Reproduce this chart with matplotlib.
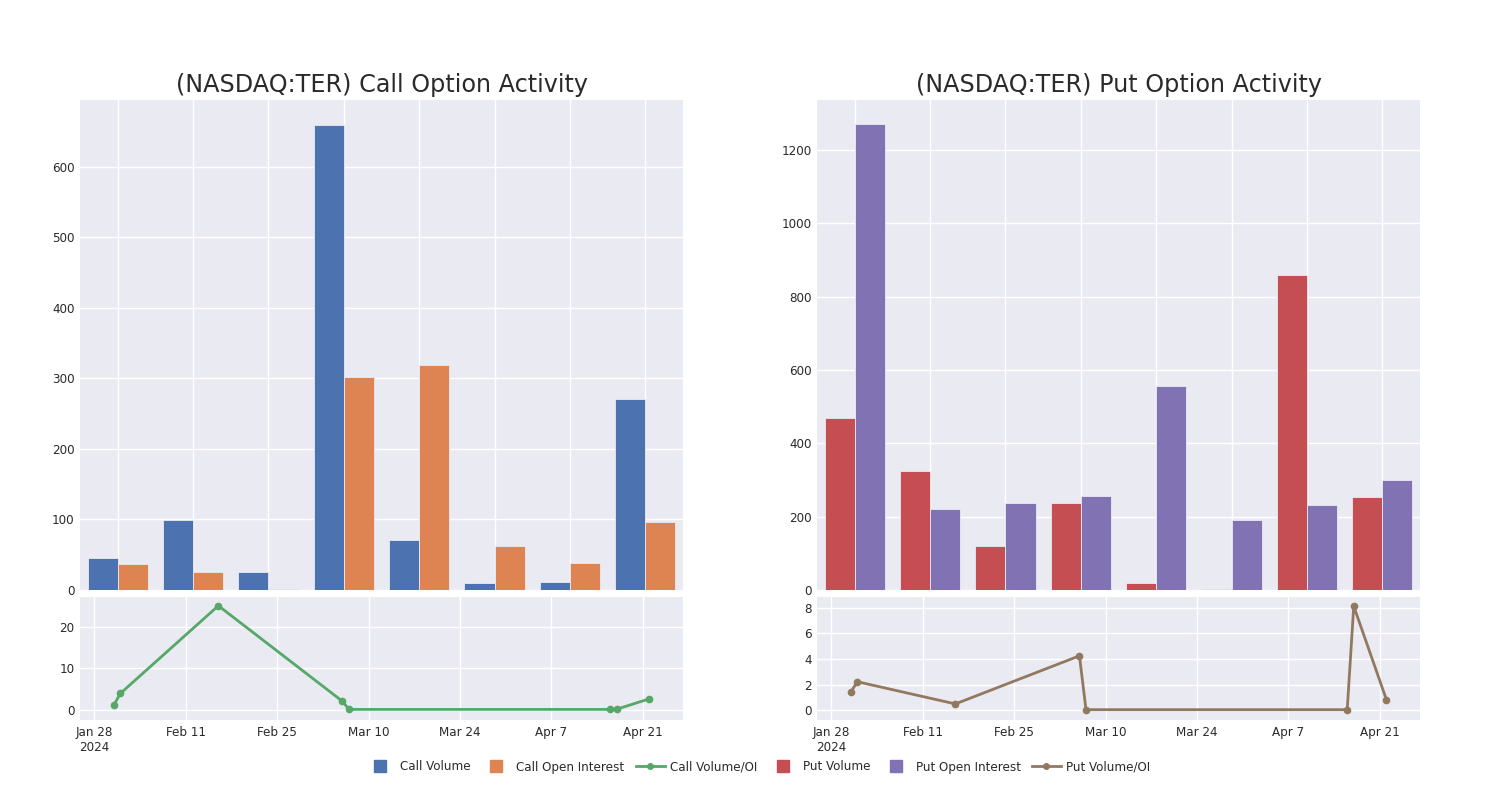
import matplotlib

matplotlib.use("Agg")
import matplotlib.pyplot as plt
import pandas as pd
from matplotlib.lines import Line2D

# categories (one bar group per expiry bucket)
categories = list(range(8))
call_volume = [46, 99, 25, 660, 71, 10, 12, 271]
call_open_interest = [37, 25, 1, 302, 319, 63, 39, 96]
put_volume = [470, 324, 120, 236, 20, 3, 858, 254]
put_open_interest = [1271, 221, 236, 256, 555, 192, 232, 300]

ratio_dates = pd.to_datetime([
    "2024-01-31", "2024-02-01", "2024-02-16", "2024-03-06",
    "2024-03-07", "2024-04-16", "2024-04-17", "2024-04-22",
])
call_ratio = [1.2, 4.0, 25.1, 2.1, 0.15, 0.15, 0.2, 2.7]
put_ratio = [1.42, 2.22, 0.48, 4.25, 0.03, 0.03, 8.14, 0.82]

tick_dates = pd.date_range("2024-01-28", periods=7, freq="14D")
tick_labels = [f"{d:%b} {d.day}" for d in tick_dates]
tick_labels[0] += "\n2024"

BG = "#EAEAF2"
TEXT = "#2a2a2a"
BLUE, ORANGE, GREEN = "#4C72B0", "#DD8452", "#55A868"
RED, PURPLE, BROWN = "#C44E52", "#8172B3", "#937860"

W, H = 1500, 800
TICK_FONT = dict(family="DejaVu Sans", stretch="condensed", size=9.5)


def px_axes(fig, left, top, right, bottom):
    ax = fig.add_axes([left / W, 1 - bottom / H, (right - left) / W, (bottom - top) / H])
    ax.set_facecolor(BG)
    for spine in ax.spines.values():
        spine.set_visible(False)
    ax.grid(True, color="white", linewidth=1.0)
    ax.set_axisbelow(True)
    ax.tick_params(length=0, pad=4)
    return ax


def style_ticks(ax):
    for label in ax.get_yticklabels() + ax.get_xticklabels():
        label.set_fontfamily(TICK_FONT["family"])
        label.set_fontstretch(TICK_FONT["stretch"])
        label.set_fontsize(TICK_FONT["size"])
        label.set_color(TEXT)


def bar_panel(ax, first, second, c1, c2, ylim, yticks, title):
    x = pd.Series(categories)
    ax.bar(x - 0.2, first, width=0.4, color=c1, edgecolor=BG, linewidth=0.6)
    ax.bar(x + 0.2, second, width=0.4, color=c2, edgecolor=BG, linewidth=0.6)
    ax.set_xlim(-0.5, 7.5)
    ax.set_ylim(*ylim)
    ax.set_xticks(categories)
    ax.set_xticklabels([])
    ax.set_yticks(yticks)
    ax.set_title(title, fontsize=17.2, color=TEXT, pad=5.5)
    style_ticks(ax)


def ratio_panel(ax, values, color, ylim, yticks):
    ax.plot(ratio_dates, values, color=color, linewidth=2, marker="o", markersize=4.5)
    ax.set_xlim(pd.Timestamp("2024-01-25 19:30"), pd.Timestamp("2024-04-27 03:30"))
    ax.set_ylim(*ylim)
    ax.set_yticks(yticks)
    ax.set_xticks(tick_dates)
    ax.set_xticklabels(tick_labels, ha="center", linespacing=1.2)
    style_ticks(ax)


fig = plt.figure(figsize=(15, 8), dpi=100)

ax_call = px_axes(fig, 80, 100, 683, 590)
bar_panel(ax_call, call_volume, call_open_interest, BLUE, ORANGE,
          (0, 695), range(0, 700, 100), "(NASDAQ:TER) Call Option Activity")

ax_put = px_axes(fig, 817, 100, 1420, 590)
bar_panel(ax_put, put_volume, put_open_interest, RED, PURPLE,
          (0, 1336), range(0, 1300, 200), "(NASDAQ:TER) Put Option Activity")

ax_call_ratio = px_axes(fig, 80, 597, 683, 720)
ratio_panel(ax_call_ratio, call_ratio, GREEN, (-2.4, 27.2), [0, 10, 20])

ax_put_ratio = px_axes(fig, 817, 597, 1420, 720)
ratio_panel(ax_put_ratio, put_ratio, BROWN, (-0.78, 8.86), [0, 2, 4, 6, 8])

handles = [
    Line2D([], [], color=BLUE, marker="s", linestyle="none", markersize=9),
    Line2D([], [], color=ORANGE, marker="s", linestyle="none", markersize=9),
    Line2D([], [], color=GREEN, marker="o", linewidth=2, markersize=4),
    Line2D([], [], color=RED, marker="s", linestyle="none", markersize=9),
    Line2D([], [], color=PURPLE, marker="s", linestyle="none", markersize=9),
    Line2D([], [], color=BROWN, marker="o", linewidth=2, markersize=4),
]
labels = ["Call Volume", "Call Open Interest", "Call Volume/OI",
          "Put Volume", "Put Open Interest", "Put Volume/OI"]
legend = fig.legend(handles, labels, loc="center", bbox_to_anchor=(758 / W, 1 - 767 / H),
                    ncol=6, frameon=False, handlelength=2.2, handletextpad=0.4,
                    columnspacing=0.85, prop=TICK_FONT)
for text in legend.get_texts():
    text.set_color(TEXT)

fig.savefig("out.png", dpi=100, facecolor="white")
